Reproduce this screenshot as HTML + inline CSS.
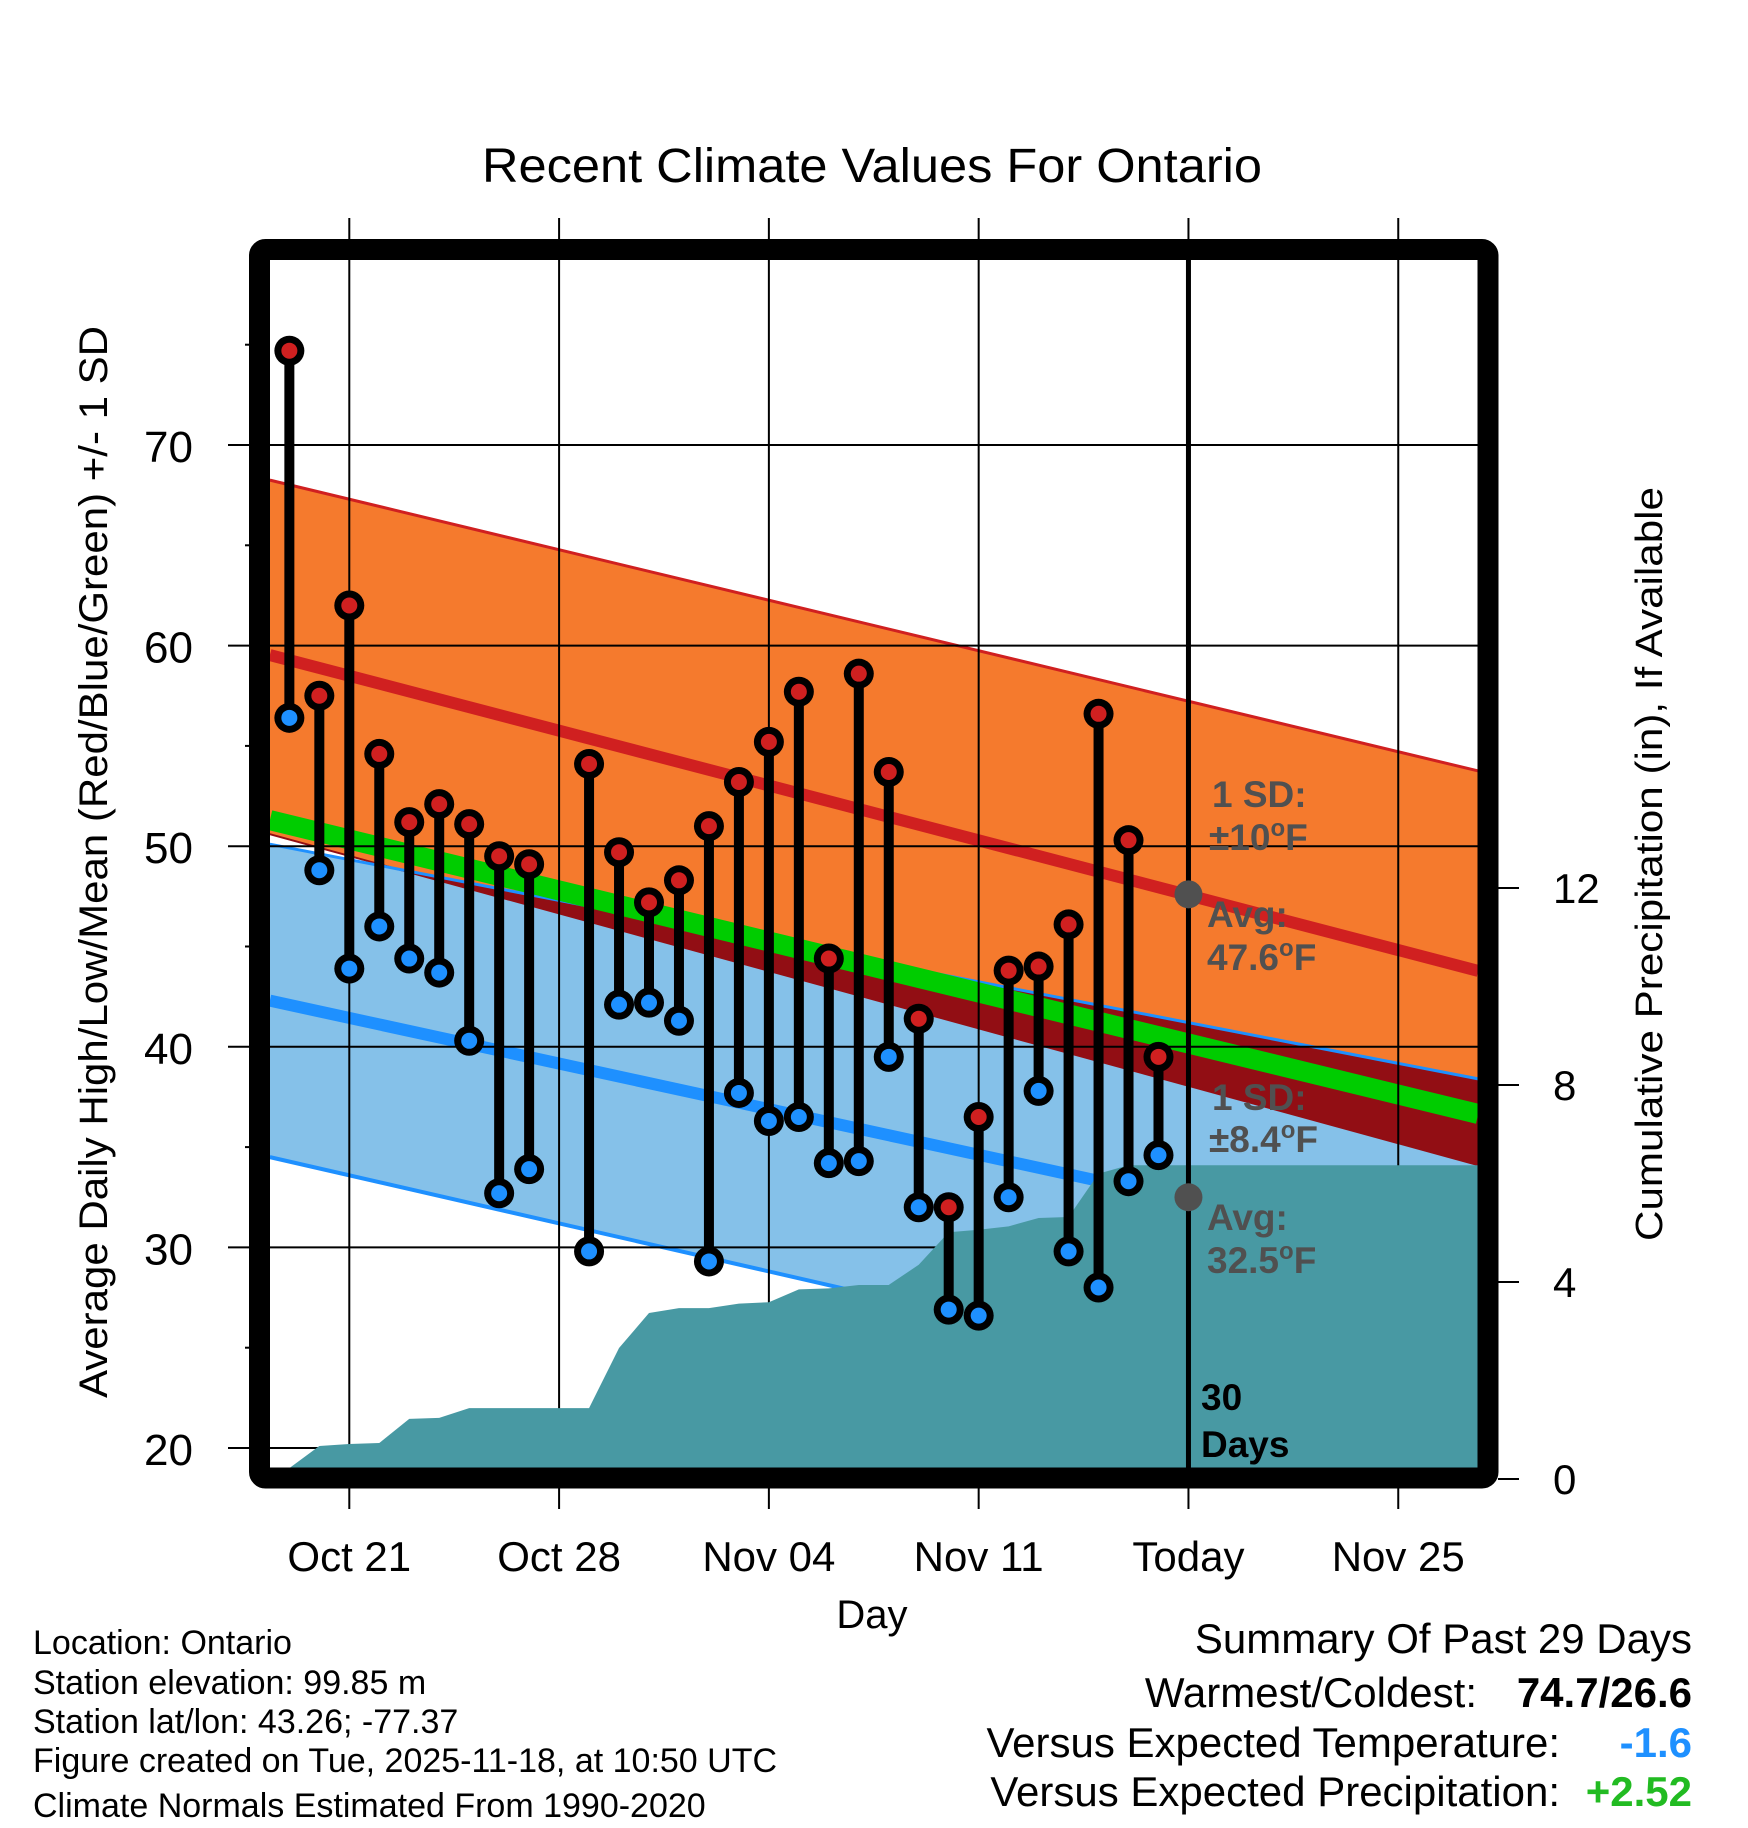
<!DOCTYPE html>
<html><head><meta charset="utf-8"><style>
html,body{margin:0;padding:0;background:#fff;}
svg{display:block;font-family:"Liberation Sans",Arial,sans-serif;}
</style></head><body>
<svg id="chart" width="1748" height="1828" viewBox="0 0 1748 1828" xmlns="http://www.w3.org/2000/svg">
<rect x="0" y="0" width="1748" height="1828" fill="#fff"/>
<g id="bands"></g><g id="grid"></g><g id="precip"></g><g id="series"></g><g id="labels"></g><g id="frame"></g><g id="axes"></g>
<text x="872" y="182" text-anchor="middle" font-size="48" textLength="780" lengthAdjust="spacingAndGlyphs">Recent Climate Values For Ontario</text>
<text x="872" y="1628" text-anchor="middle" font-size="40">Day</text>
<text transform="translate(107,862) rotate(-90)" text-anchor="middle" font-size="40" textLength="1072" lengthAdjust="spacingAndGlyphs">Average Daily High/Low/Mean (Red/Blue/Green) +/- 1 SD</text>
<text transform="translate(1662,864) rotate(-90)" text-anchor="middle" font-size="38" textLength="754" lengthAdjust="spacingAndGlyphs">Cumulative Precipitation (in), If Available</text>
<g font-size="34">
<text x="33" y="1654">Location: Ontario</text>
<text x="33" y="1694">Station elevation: 99.85 m</text>
<text x="33" y="1733">Station lat/lon: 43.26; -77.37</text>
<text x="33" y="1772">Figure created on Tue, 2025-11-18, at 10:50 UTC</text>
<text x="33" y="1817">Climate Normals Estimated From 1990-2020</text>
</g>
<g font-size="42">
<text x="1692" y="1653" text-anchor="end">Summary Of Past 29 Days</text>
<text x="1477" y="1707" text-anchor="end">Warmest/Coldest:</text>
<text x="1692" y="1707" text-anchor="end" font-weight="bold">74.7/26.6</text>
<text x="1560" y="1757" text-anchor="end">Versus Expected Temperature:</text>
<text x="1692" y="1757" text-anchor="end" font-weight="bold" fill="#1e90ff">-1.6</text>
<text x="1560" y="1806" text-anchor="end">Versus Expected Precipitation:</text>
<text x="1692" y="1806" text-anchor="end" font-weight="bold" fill="#22bb22">+2.52</text>
</g>
</svg>
<script>
// ---- data ----
const dayOffsets = [-2,-1,0,1,2,3,4,5,6,8,9,10,11,12,13,14,15,16,17,18,19,20,21,22,23,24,25,26,27];
const highs = [74.7,57.5,62.0,54.6,51.2,52.1,51.1,49.5,49.1,54.1,49.7,47.2,48.3,51.0,53.2,55.2,57.7,44.4,58.6,53.7,41.4,32.0,36.5,43.8,44.0,46.1,56.6,50.3,39.5];
const lows  = [56.4,48.8,43.9,46.0,44.4,43.7,40.3,32.7,33.9,29.8,42.1,42.2,41.3,29.3,37.7,36.3,36.5,34.2,34.3,39.5,32.0,26.9,26.6,32.5,37.8,29.8,28.0,33.3,34.6];
const precipDays = [-2,-1,0,1,2,3,4,5,6,7,8,9,10,11,12,13,14,15,16,17,18,19,20,21,22,23,24,25,26,27,37.7];
const precip = [0.22,0.67,0.71,0.73,1.22,1.24,1.44,1.44,1.44,1.44,1.44,2.66,3.37,3.47,3.47,3.56,3.59,3.85,3.87,3.94,3.94,4.35,5.01,5.06,5.13,5.30,5.32,6.20,6.37,6.37,6.37];
const normalDays = [-2.65, 37.67];
const highTop = [68.25, 53.75];
const highMean = [59.53, 43.78];
const highBot = [50.6, 34.1];
const meanNorm = [51.3, 36.65];
const lowTop = [50.1, 38.4];
const lowMean = [42.3, 29.2];
const lowBot = [34.5, 20.7];
const yTicks = [20,30,40,50,60,70];
const yMinor = [25,35,45,55,65,75];
const y2Ticks = [0,4,8,12];
const xTickDays = [0,7,14,21,28,35];
const xTickLabels = ["Oct 21","Oct 28","Nov 04","Nov 11","Today","Nov 25"];
const todayDay = 28;
const avgHigh = 47.6, avgLow = 32.5;

// ---- axes ----
const X = d => 349.3 + d*29.97;
const Y = v => 445 - (v-70)*20.06;
const Y2 = p => 1479 - p*49.25;
const L=270,R=1478,T=260,B=1468;
const NS="http://www.w3.org/2000/svg";
function mk(tag, parent, attrs){const e=document.createElementNS(NS,tag);for(const k in attrs)e.setAttribute(k,attrs[k]);document.getElementById(parent).appendChild(e);return e;}
function lerp(a,t){return a[0]+(a[1]-a[0])*t;}
function bandPts(top,bot){const x0=X(normalDays[0]),x1=X(normalDays[1]);
 return `${x0},${Y(top[0])} ${x1},${Y(top[1])} ${x1},${Y(bot[1])} ${x0},${Y(bot[0])}`;}
let e;
e=mk('polygon','bands',{points:bandPts(highTop,highBot),fill:'#f57a2d'});


e=mk('polygon','bands',{points:bandPts(lowTop,lowBot),fill:'#85c1e9'});


{const N=200;let up=[],dn=[];
 for(let i=0;i<=N;i++){const t=i/N;const d=lerp(normalDays,t);const lt=lerp(lowTop,t),hb=lerp(highBot,t);
  if(lt>hb){up.push(`${X(d)},${Y(lt)}`);dn.unshift(`${X(d)},${Y(hb)}`);}}
 if(up.length){e=mk('polygon','bands',{points:up.concat(dn).join(' '),fill:'#920e14'});
 
 }}
function nline(arr,col,w,name){const x0=X(normalDays[0]),x1=X(normalDays[1]);
 const l=mk('line','bands',{x1:x0,y1:Y(arr[0]),x2:x1,y2:Y(arr[1]),stroke:col,'stroke-width':w});
 
 }
nline(highTop,'#d02020',3,'high-plus-sd-line');
nline(highBot,'#920e14',2,'high-minus-sd-line');
nline(lowTop,'#1e90ff',3,'low-plus-sd-line');
nline(lowBot,'#1e90ff',4,'low-minus-sd-line');
nline(lowMean,'#1e90ff',12,'low-mean-line');
nline(meanNorm,'#00cc00',20,'mean-normal-line');
nline(highMean,'#d02020',12,'high-mean-line');
yTicks.forEach(v=>{const l=mk('line','grid',{x1:228,y1:Y(v),x2:R,y2:Y(v),stroke:'#000','stroke-width':2});
 
 });
xTickDays.forEach(d=>{const l=mk('line','grid',{x1:X(d),y1:218,x2:X(d),y2:1509,stroke:'#000','stroke-width':2});
 
 });
{let pts=[`${X(precipDays[0])},${Y2(0)}`];
 precipDays.forEach((d,i)=>pts.push(`${Math.min(X(d),R)},${Y2(precip[i])}`));
 pts.push(`${R},${Y2(0)}`);
 e=mk('polygon','precip',{points:pts.join(' '),fill:'#4899a3'});
 
 }
e=mk('line','series',{x1:X(todayDay),y1:T,x2:X(todayDay),y2:B,stroke:'#000','stroke-width':5});


dayOffsets.forEach((d,i)=>{const x=X(d);
 const s=mk('line','series',{x1:x,y1:Y(highs[i]),x2:x,y2:Y(lows[i]),stroke:'#000','stroke-width':10});
 
 
 [[highs[i],'#d02020','high-marker'],[lows[i],'#1e90ff','low-marker']].forEach(([v,c,n])=>{
  const o=mk('circle','series',{cx:x,cy:Y(v),r:15,fill:'#000'});
  
  
  const c2=mk('circle','series',{cx:x,cy:Y(v),r:8,fill:c});
  
  });});
[avgHigh,avgLow].forEach((v,i)=>{const c=mk('circle','series',{cx:X(todayDay),cy:Y(v),r:14,fill:'#505050'});
 
 });
function txt(parent,x,y,str,attrs,name){const t=mk('text',parent,Object.assign({x:x,y:y},attrs));t.innerHTML=str;
 
 return t;}
const g={fill:'#505050','font-weight':'bold','font-size':37};
txt('labels',1212,807,'1 SD:',g,'high-sd-label');
txt('labels',1209,850,'±10<tspan dy="-14" font-size="24">o</tspan><tspan dy="14">F</tspan>',g,'high-sd-value');
txt('labels',1207,927,'Avg:',g,'avg-high-label');
txt('labels',1207,970,avgHigh.toFixed(1)+'<tspan dy="-14" font-size="24">o</tspan><tspan dy="14">F</tspan>',g,'avg-high-value');
txt('labels',1212,1110,'1 SD:',g,'low-sd-label');
txt('labels',1209,1152,'±8.4<tspan dy="-14" font-size="24">o</tspan><tspan dy="14">F</tspan>',g,'low-sd-value');
txt('labels',1207,1230,'Avg:',g,'avg-low-label');
txt('labels',1207,1273,avgLow.toFixed(1)+'<tspan dy="-14" font-size="24">o</tspan><tspan dy="14">F</tspan>',g,'avg-low-value');
txt('labels',1201,1410,'30',{'font-weight':'bold','font-size':37},'days-count');
txt('labels',1201,1457,'Days',{'font-weight':'bold','font-size':37},'days-label');
e=mk('rect','frame',{x:259.5,y:249.5,width:1228.5,height:1228.5,fill:'none',stroke:'#000','stroke-width':21,rx:6});


yTicks.forEach(v=>{txt('axes',193,Y(v)+17,String(v),{'font-size':44,'text-anchor':'end'},'y-tick-label');});
yMinor.forEach(v=>{const l=mk('line','axes',{x1:245,y1:Y(v),x2:250,y2:Y(v),stroke:'#000','stroke-width':2});
 
 });
y2Ticks.forEach(p=>{const l=mk('line','axes',{x1:1498,y1:Y2(p),x2:1519,y2:Y2(p),stroke:'#000','stroke-width':2});
 
 
 txt('axes',1553,Y2(p)+15,String(p),{'font-size':42},'y2-tick-label');});
xTickDays.forEach((d,i)=>{txt('axes',X(d),1571,xTickLabels[i],{'font-size':42,'text-anchor':'middle'},'x-tick-label');});
</script>
</body></html>
